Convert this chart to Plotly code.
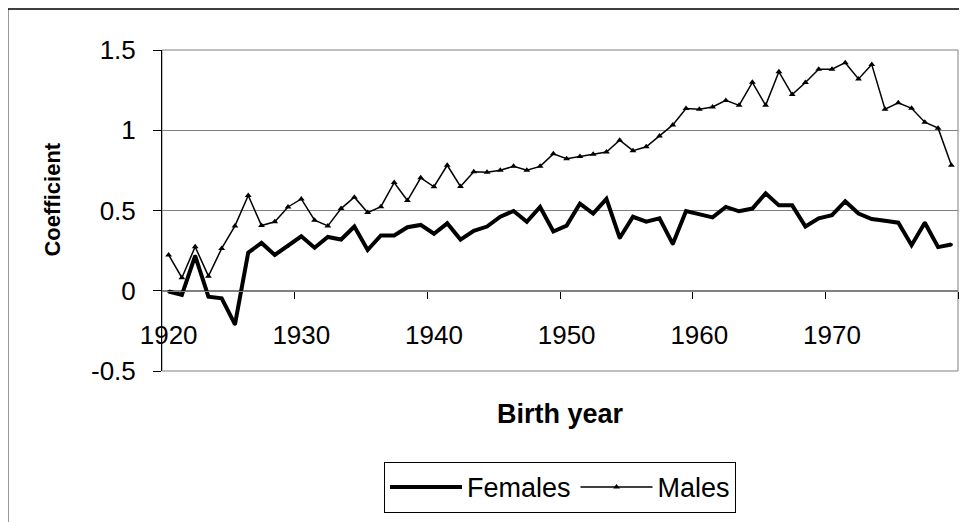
import plotly.graph_objects as go

years = list(range(1920, 1980))

females = [-0.005, -0.026, 0.217, -0.037, -0.047, -0.209, 0.238, 0.298, 0.223, 0.278,
           0.339, 0.268, 0.335, 0.319, 0.400, 0.254, 0.345, 0.345, 0.396, 0.410,
           0.355, 0.420, 0.319, 0.374, 0.400, 0.461, 0.497, 0.430, 0.522, 0.369,
           0.406, 0.542, 0.481, 0.572, 0.329, 0.461, 0.430, 0.451, 0.292, 0.497,
           0.475, 0.457, 0.522, 0.495, 0.512, 0.607, 0.532, 0.532, 0.400, 0.451,
           0.471, 0.558, 0.481, 0.447, 0.436, 0.424, 0.284, 0.424, 0.272, 0.288]

males = [0.223, 0.081, 0.274, 0.091, 0.264, 0.404, 0.593, 0.406, 0.430, 0.522,
         0.572, 0.440, 0.404, 0.512, 0.583, 0.487, 0.524, 0.674, 0.562, 0.704,
         0.648, 0.782, 0.650, 0.741, 0.739, 0.751, 0.775, 0.751, 0.775, 0.853,
         0.822, 0.836, 0.851, 0.864, 0.938, 0.873, 0.897, 0.964, 1.033, 1.135,
         1.131, 1.145, 1.186, 1.155, 1.299, 1.155, 1.364, 1.222, 1.297, 1.380,
         1.380, 1.421, 1.320, 1.409, 1.131, 1.171, 1.137, 1.050, 1.013, 0.782]

x_tick_vals = [1920, 1930, 1940, 1950, 1960, 1970]
x_tick_text = ["1920", "1930", "1940", "1950", "1960", "1970"]
x_boundary_ticks = [1929.5, 1939.5, 1949.5, 1959.5, 1969.5, 1979.5]
y_tick_vals = [-0.5, 0, 0.5, 1, 1.5]
y_tick_text = ["-0.5", "0", "0.5", "1", "1.5"]

FONT = "Arial, Liberation Sans, sans-serif"

fig = go.Figure()
fig.add_trace(go.Scatter(
    x=years, y=females, name="Females", mode="lines+markers",
    line=dict(color="black", width=4),
    marker=dict(symbol="circle", size=3, color="black"),
))
fig.add_trace(go.Scatter(
    x=years, y=males, name="Males", mode="lines+markers",
    line=dict(color="black", width=1.5),
    marker=dict(symbol="triangle-up", size=6, color="black"),
))

# page body has an 8px margin, so the figure is 8px smaller and margins shifted
fig.update_layout(
    width=959, height=514,
    margin=dict(l=154, r=9, t=42, b=143),
    paper_bgcolor="white", plot_bgcolor="white",
    font=dict(family=FONT, size=24, color="black"),
    showlegend=True,
    legend=dict(
        orientation="h", x=0.5, xanchor="center", y=-0.283, yanchor="top",
        bordercolor="black", borderwidth=1, bgcolor="white",
        font=dict(family=FONT, size=27, color="black"),
        itemwidth=72, tracegroupgap=0,
    ),
    xaxis=dict(
        range=[1919.5, 1979.5],
        anchor="free", position=0.25,
        tickmode="array", tickvals=x_tick_vals, ticktext=x_tick_text,
        ticks="", showgrid=False, zeroline=False,
        showline=True, linecolor="#808080", linewidth=1,
        tickfont=dict(family=FONT, size=26, color="black"),
        ticklabelstandoff=21,
        minor=dict(tickmode="array", tickvals=x_boundary_ticks, ticks="outside",
                   ticklen=7, tickcolor="black", tickwidth=1, showgrid=False),
    ),
    yaxis=dict(
        range=[-0.5, 1.5],
        tickmode="array", tickvals=y_tick_vals, ticktext=y_tick_text,
        ticks="outside", ticklen=8, tickcolor="black", tickwidth=1,
        showgrid=True, gridcolor="#808080", gridwidth=1,
        zeroline=False,
        showline=True, linecolor="black", linewidth=1,
        tickfont=dict(family=FONT, size=26, color="black"),
        ticklabelstandoff=12,
    ),
    shapes=[
        dict(type="rect", xref="paper", yref="paper", x0=0, x1=1, y0=0, y1=1,
             line=dict(color="#808080", width=1), layer="below"),
        dict(type="rect", xref="paper", yref="paper", x0=-0.1939, x1=1.2, y0=-0.6, y1=1.1277,
             line=dict(color="black", width=1.5), layer="below"),
    ],
    annotations=[
        dict(text="<b>Birth year</b>", xref="paper", yref="paper", x=0.5, y=-0.134,
             xanchor="center", yanchor="middle", showarrow=False,
             font=dict(family=FONT, size=27, color="black")),
        dict(text="<b>Coefficient</b>", xref="paper", yref="paper", x=-0.137, y=0.534,
             xanchor="center", yanchor="middle", showarrow=False, textangle=-90,
             font=dict(family=FONT, size=22, color="black")),
    ],
)

fig.write_html("out.html")
